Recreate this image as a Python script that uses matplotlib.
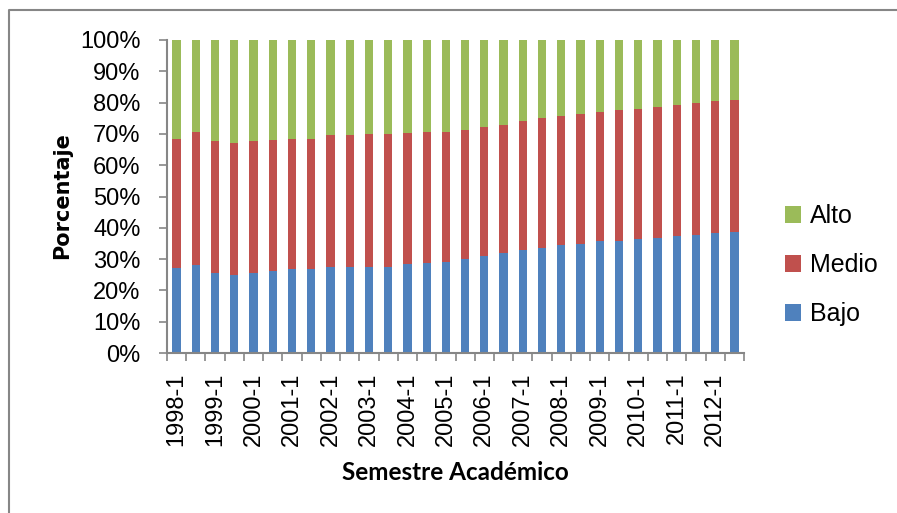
import matplotlib
matplotlib.use("Agg")
import matplotlib.pyplot as plt
from matplotlib.lines import Line2D
import numpy as np

# semesters 1998-1 .. 2012-2
semestres = [f"{y}-{s}" for y in range(1998, 2013) for s in (1, 2)]

# share of students per level (%), read per semester
bajo = [27.3, 28.1, 25.7, 24.9, 25.7, 26.1, 26.8, 26.8, 27.5, 27.5,
        27.6, 27.6, 28.3, 28.6, 29.2, 29.9, 31.0, 31.8, 32.9, 33.6,
        34.5, 34.9, 35.7, 35.9, 36.4, 36.9, 37.4, 37.6, 38.3, 38.7]
bajo_medio = [68.4, 70.7, 67.8, 67.2, 67.8, 68.1, 68.4, 68.4, 69.6, 69.6,
              69.9, 70.0, 70.3, 70.7, 70.7, 71.4, 72.3, 73.0, 74.2, 75.1,
              75.8, 76.4, 77.1, 77.6, 78.0, 78.7, 79.2, 79.9, 80.4, 80.8]
medio = [t - b for t, b in zip(bajo_medio, bajo)]
alto = [100 - t for t in bajo_medio]

c_bajo, c_medio, c_alto = "#4F81BD", "#C0504D", "#9BBB59"
grey = "#868686"

fig = plt.figure(figsize=(8.97, 5.13), dpi=100)
ax = fig.add_axes([167 / 897, 1 - 353 / 513, (744 - 167) / 897, (353 - 40) / 513])

x = np.arange(len(semestres))
w = 0.43
ax.bar(x, bajo, w, color=c_bajo, label="Bajo")
ax.bar(x, medio, w, bottom=bajo, color=c_medio, label="Medio")
ax.bar(x, alto, w, bottom=bajo_medio, color=c_alto, label="Alto")

ax.set_xlim(-0.5, len(semestres) - 0.5)
ax.set_ylim(0, 100)

for s in ("top", "right"):
    ax.spines[s].set_visible(False)
for s in ("left", "bottom"):
    ax.spines[s].set_color(grey)
    ax.spines[s].set_linewidth(1.5)

tick_font = dict(family="Liberation Sans", size=17)
ax.set_yticks(np.arange(0, 101, 10))
ax.set_yticklabels([f"{v}%" for v in range(0, 101, 10)], **tick_font)
ax.tick_params(axis="y", length=6, width=1.2, color=grey, pad=13)

ax.set_xticks(x[::2])
ax.set_xticklabels(semestres[::2], rotation=90, va="top", ha="center", **tick_font)
ax.set_xticks(np.arange(-0.5, len(semestres), 1), minor=True)
ax.tick_params(axis="x", which="major", length=0, pad=14)
ax.tick_params(axis="x", which="minor", length=6, width=1.2, color=grey)

fig.text(62 / 897, 1 - 196 / 513, "Porcentaje", rotation=90, ha="center", va="center",
         family="DejaVu Sans", weight="bold", size=15)
fig.text(455 / 897, 1 - 473 / 513, "Semestre Académico", ha="center", va="center",
         family="Lato", weight="bold", size=17.5)

handles, labels = ax.get_legend_handles_labels()
leg = fig.legend(handles[::-1], labels[::-1], loc="center left",
                 bbox_to_anchor=(772 / 897, 1 - 265 / 513), frameon=False,
                 prop=dict(family="Liberation Sans", size=18),
                 handlelength=0.65, handleheight=0.65, handletextpad=0.35,
                 labelspacing=1.0, borderpad=0)

# outer chart-area border (left and top edges)
fx, fy = 9 / 897, 1 - 10 / 513
fig.add_artist(Line2D([fx, fx, 1.0], [0.0, fy, fy], transform=fig.transFigure,
                      color=grey, linewidth=1.5))

fig.savefig("out.png", dpi=100)
